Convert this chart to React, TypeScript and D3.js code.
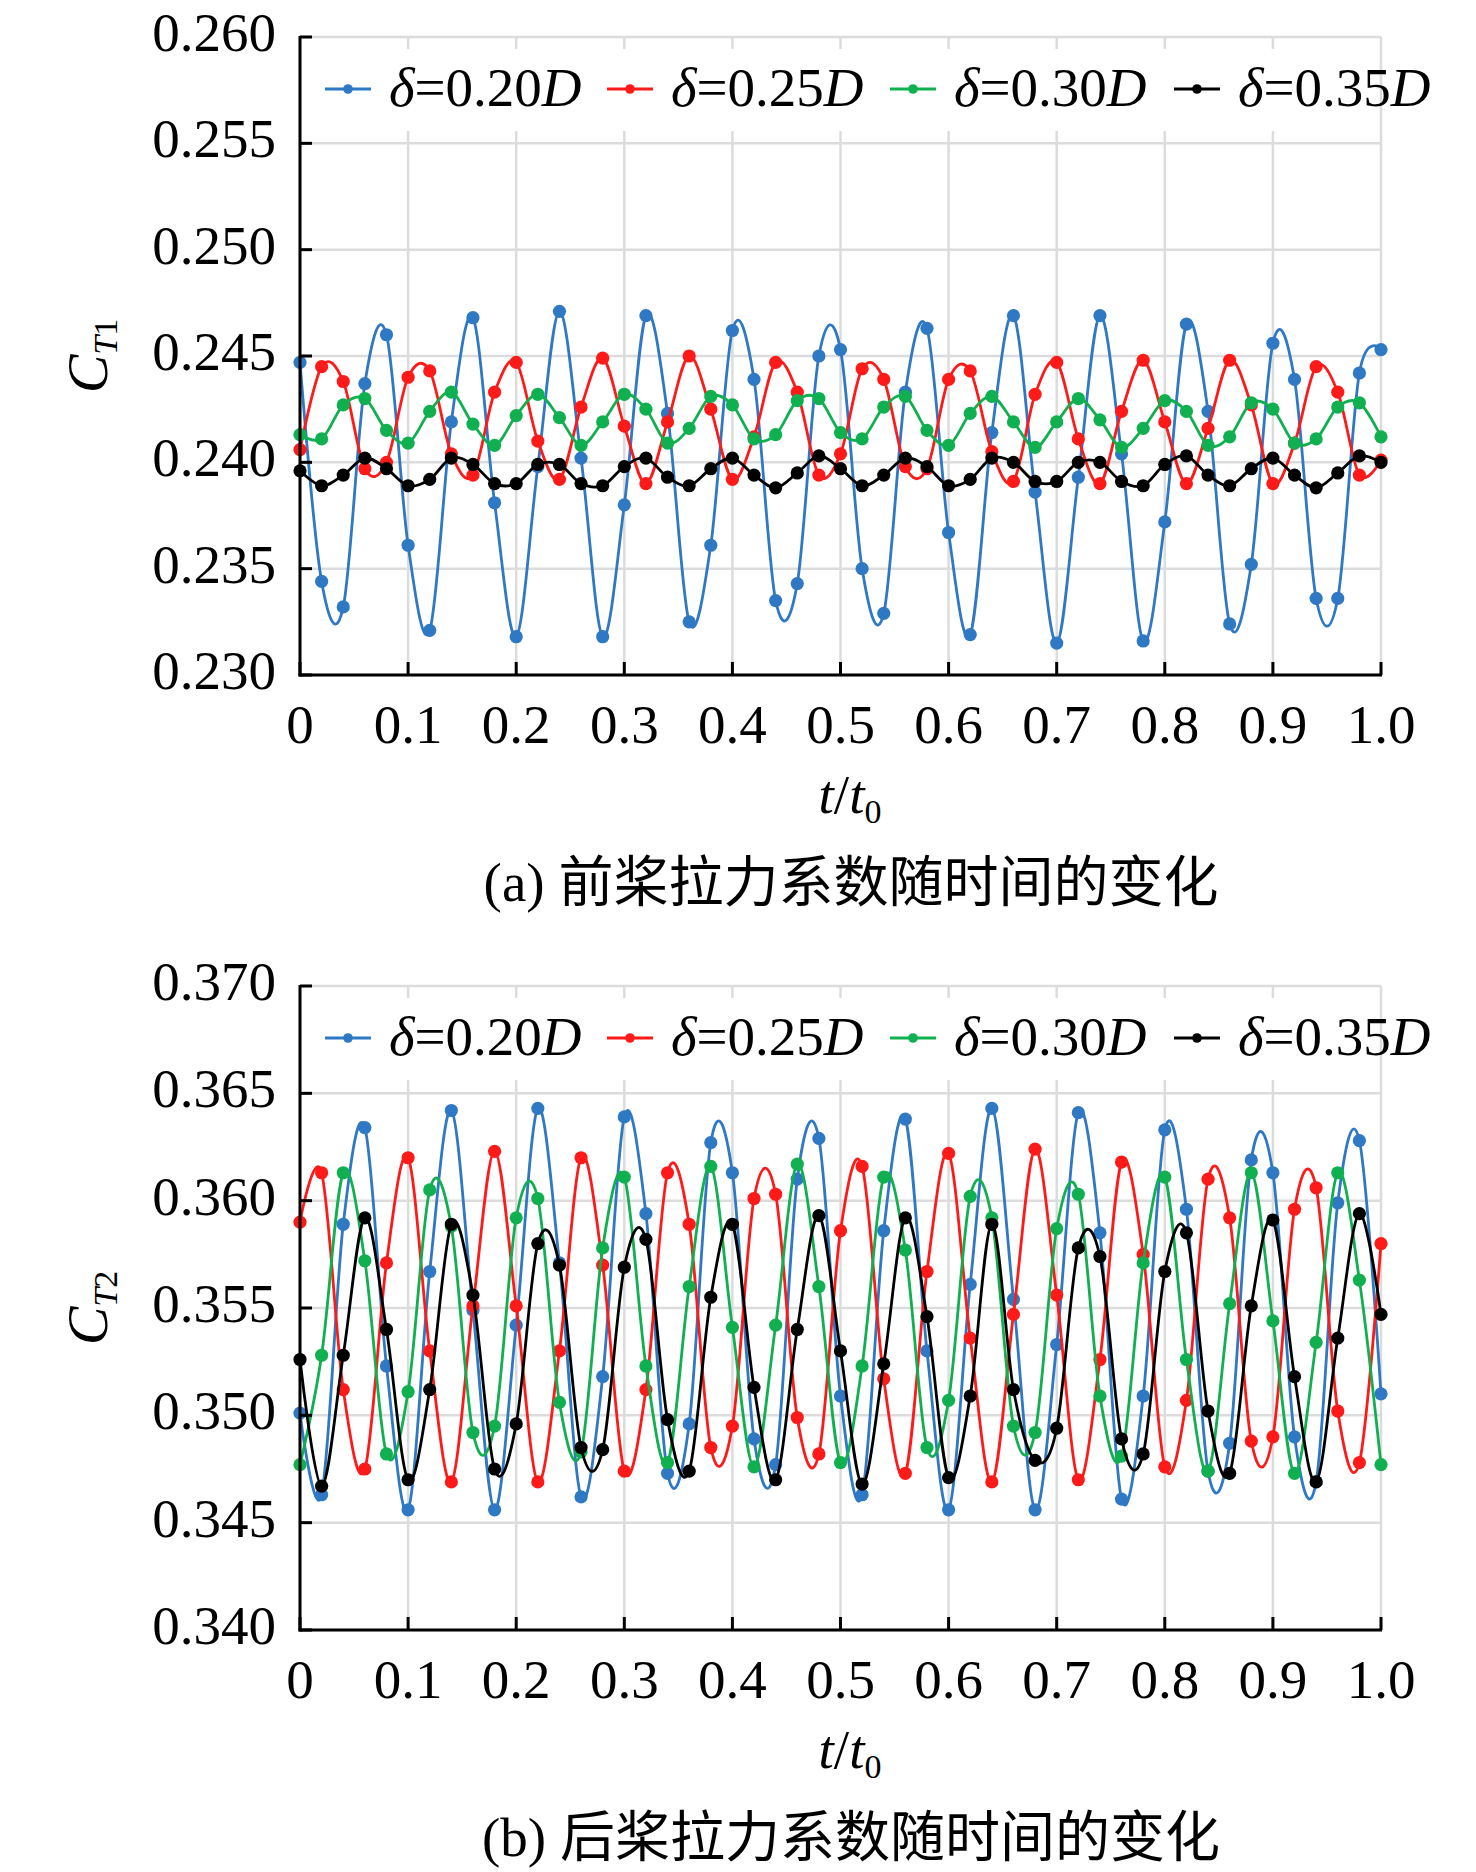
import React from "react";
import * as d3 from "d3";

// time samples t/t0 (step 0.02)
const tValues: number[] = d3.range(51).map((i) => +(i * 0.02).toFixed(2));

const seriesNames = ["0.20", "0.25", "0.30", "0.35"];
const seriesColors = ["#2f78c4", "#ff1a1a", "#10b050", "#000000"];

// (a) front propeller C_T1
const ct1_020 = [0.2447, 0.2344, 0.2332, 0.2437, 0.2460, 0.2361, 0.2321, 0.2419, 0.2468, 0.2381, 0.2318, 0.2398, 0.2471, 0.2402, 0.2318, 0.2380, 0.2469, 0.2423, 0.2325, 0.2361, 0.2462, 0.2439, 0.2335, 0.2343, 0.2450, 0.2453, 0.2350, 0.2329, 0.2433, 0.2463, 0.2367, 0.2319, 0.2414, 0.2469, 0.2386, 0.2315, 0.2393, 0.2469, 0.2404, 0.2316, 0.2372, 0.2465, 0.2424, 0.2324, 0.2352, 0.2456, 0.2439, 0.2336, 0.2336, 0.2442, 0.2453];
const ct1_025 = [0.2406, 0.2445, 0.2438, 0.2397, 0.2400, 0.2440, 0.2443, 0.2404, 0.2394, 0.2433, 0.2447, 0.2410, 0.2392, 0.2426, 0.2449, 0.2417, 0.2390, 0.2419, 0.2450, 0.2425, 0.2392, 0.2412, 0.2447, 0.2433, 0.2394, 0.2404, 0.2444, 0.2439, 0.2398, 0.2397, 0.2439, 0.2443, 0.2405, 0.2391, 0.2432, 0.2447, 0.2411, 0.2390, 0.2424, 0.2448, 0.2419, 0.2390, 0.2416, 0.2448, 0.2427, 0.2390, 0.2409, 0.2445, 0.2433, 0.2394, 0.2401];
const ct1_030 = [0.2413, 0.2411, 0.2427, 0.2430, 0.2415, 0.2409, 0.2424, 0.2433, 0.2418, 0.2408, 0.2422, 0.2432, 0.2421, 0.2408, 0.2419, 0.2432, 0.2425, 0.2409, 0.2416, 0.2431, 0.2427, 0.2411, 0.2413, 0.2429, 0.2430, 0.2414, 0.2411, 0.2426, 0.2431, 0.2415, 0.2408, 0.2423, 0.2431, 0.2419, 0.2407, 0.2419, 0.2430, 0.2420, 0.2407, 0.2416, 0.2429, 0.2424, 0.2408, 0.2412, 0.2428, 0.2425, 0.2409, 0.2411, 0.2426, 0.2428, 0.2412];
const ct1_035 = [0.2396, 0.2389, 0.2394, 0.2402, 0.2397, 0.2389, 0.2392, 0.2402, 0.2399, 0.2390, 0.2390, 0.2399, 0.2399, 0.2390, 0.2389, 0.2398, 0.2402, 0.2393, 0.2389, 0.2397, 0.2402, 0.2394, 0.2388, 0.2395, 0.2403, 0.2397, 0.2389, 0.2394, 0.2402, 0.2398, 0.2389, 0.2392, 0.2402, 0.2400, 0.2391, 0.2391, 0.2400, 0.2400, 0.2391, 0.2389, 0.2399, 0.2403, 0.2394, 0.2389, 0.2397, 0.2402, 0.2394, 0.2388, 0.2395, 0.2403, 0.2400];

// (b) rear propeller C_T2
const ct2_020 = [0.3501, 0.3463, 0.3589, 0.3634, 0.3523, 0.3456, 0.3567, 0.3642, 0.3549, 0.3456, 0.3542, 0.3643, 0.3571, 0.3462, 0.3518, 0.3639, 0.3594, 0.3473, 0.3496, 0.3627, 0.3613, 0.3489, 0.3477, 0.3610, 0.3629, 0.3509, 0.3463, 0.3586, 0.3638, 0.3530, 0.3456, 0.3561, 0.3643, 0.3554, 0.3456, 0.3533, 0.3641, 0.3585, 0.3461, 0.3509, 0.3633, 0.3596, 0.3474, 0.3487, 0.3619, 0.3613, 0.3490, 0.3469, 0.3599, 0.3628, 0.3510];
const ct2_025 = [0.3590, 0.3613, 0.3512, 0.3475, 0.3571, 0.3620, 0.3530, 0.3469, 0.3551, 0.3623, 0.3551, 0.3469, 0.3530, 0.3620, 0.3570, 0.3474, 0.3512, 0.3613, 0.3589, 0.3485, 0.3495, 0.3601, 0.3603, 0.3499, 0.3482, 0.3586, 0.3616, 0.3517, 0.3473, 0.3567, 0.3622, 0.3536, 0.3469, 0.3547, 0.3624, 0.3556, 0.3470, 0.3526, 0.3618, 0.3575, 0.3476, 0.3507, 0.3610, 0.3592, 0.3488, 0.3490, 0.3596, 0.3606, 0.3502, 0.3478, 0.3580];
const ct2_030 = [0.3477, 0.3528, 0.3613, 0.3572, 0.3482, 0.3511, 0.3605, 0.3588, 0.3492, 0.3495, 0.3592, 0.3601, 0.3506, 0.3483, 0.3578, 0.3611, 0.3523, 0.3478, 0.3560, 0.3616, 0.3541, 0.3476, 0.3542, 0.3617, 0.3560, 0.3478, 0.3523, 0.3611, 0.3577, 0.3485, 0.3507, 0.3602, 0.3592, 0.3495, 0.3492, 0.3587, 0.3603, 0.3509, 0.3481, 0.3571, 0.3611, 0.3526, 0.3474, 0.3552, 0.3613, 0.3544, 0.3473, 0.3534, 0.3613, 0.3563, 0.3477];
const ct2_035 = [0.3526, 0.3467, 0.3528, 0.3592, 0.3540, 0.3470, 0.3512, 0.3589, 0.3556, 0.3475, 0.3496, 0.3580, 0.3570, 0.3485, 0.3484, 0.3569, 0.3582, 0.3498, 0.3474, 0.3555, 0.3589, 0.3513, 0.3470, 0.3540, 0.3593, 0.3530, 0.3468, 0.3524, 0.3592, 0.3546, 0.3471, 0.3509, 0.3589, 0.3512, 0.3479, 0.3494, 0.3578, 0.3574, 0.3489, 0.3482, 0.3567, 0.3585, 0.3502, 0.3473, 0.3551, 0.3591, 0.3518, 0.3469, 0.3536, 0.3594, 0.3547];

const xTicks = [0, 0.1, 0.2, 0.3, 0.4, 0.5, 0.6, 0.7, 0.8, 0.9, 1.0];
const xTickLabels = ["0", "0.1", "0.2", "0.3", "0.4", "0.5", "0.6", "0.7", "0.8", "0.9", "1.0"];
const yTicks1 = [0.23, 0.235, 0.24, 0.245, 0.25, 0.255, 0.26];
const yTicks2 = [0.34, 0.345, 0.35, 0.355, 0.36, 0.365, 0.37];

const SERIF = "'Times New Roman', 'Liberation Serif', 'Noto Sans CJK SC', serif";
const FS = 55;

interface PanelProps {
    top: number;
    bottom: number;
    yDomain: [number, number];
    yTicks: number[];
    series: number[][];
    sub: string;
    caption: string;
}

const left = 300;
const right = 1381;

const Panel: React.FC<PanelProps> = ({ top, bottom, yDomain, yTicks, series, sub, caption }) => {
    const x = d3.scaleLinear().domain([0, 1]).range([left, right]);
    const y = d3.scaleLinear().domain(yDomain).range([bottom, top]);

    const line = d3
        .line<number>()
        .x((_d, i) => x(tValues[i]))
        .y((d) => y(d))
        .curve(d3.curveCardinal.tension(0));

    const legendY = top + 52;
    const legendX = [325, 607, 890, 1174];
    const midY = (top + bottom) / 2;

    return (
        <g>
            {/* 网格线 */}
            {yTicks.map((v) => (
                <line key={"gy" + v} x1={left} x2={right} y1={y(v)} y2={y(v)} stroke="#dcdcdc" strokeWidth={2.5} />
            ))}
            {xTicks.map((v) => (
                <line key={"gx" + v} x1={x(v)} x2={x(v)} y1={top} y2={bottom} stroke="#dcdcdc" strokeWidth={2.5} />
            ))}

            {/* 图例底色 */}
            <rect x={left + 8} y={top + 12} width={right - left - 12} height={82} fill="#fff" />

            {/* 数据线 */}
            {series.map((s, si) => (
                <g key={"s" + si}>
                    <path d={line(s) || ""} fill="none" stroke={seriesColors[si]} strokeWidth={2.8} />
                    {s.map((v, i) => (
                        <circle key={i} cx={x(tValues[i])} cy={y(v)} r={6.6} fill={seriesColors[si]} />
                    ))}
                </g>
            ))}

            {/* 坐标轴 */}
            <line x1={left} x2={left} y1={top - 1} y2={bottom + 1.5} stroke="#000" strokeWidth={3} />
            <line x1={left - 1.5} x2={right + 1} y1={bottom} y2={bottom} stroke="#000" strokeWidth={3} />
            {yTicks.map((v) => (
                <g key={"ty" + v}>
                    <line x1={left} x2={left + 12} y1={y(v)} y2={y(v)} stroke="#000" strokeWidth={3} />
                    <text x={276} y={y(v) + 14} textAnchor="end" fontFamily={SERIF} fontSize={FS}>
                        {d3.format(".3f")(v)}
                    </text>
                </g>
            ))}
            {xTicks.map((v, i) => (
                <g key={"tx" + v}>
                    <line x1={x(v)} x2={x(v)} y1={bottom} y2={bottom - 13} stroke="#000" strokeWidth={3} />
                    <text x={x(v)} y={bottom + 68} textAnchor="middle" fontFamily={SERIF} fontSize={FS}>
                        {xTickLabels[i]}
                    </text>
                </g>
            ))}

            {/* 图例 */}
            {seriesNames.map((n, i) => (
                <g key={"lg" + n}>
                    <line x1={legendX[i]} x2={legendX[i] + 46} y1={legendY} y2={legendY} stroke={seriesColors[i]} strokeWidth={2.8} />
                    <circle cx={legendX[i] + 23} cy={legendY} r={4.8} fill={seriesColors[i]} />
                    <text x={legendX[i] + 64} y={legendY + 17} fontFamily={SERIF} fontSize={FS}>
                        <tspan fontStyle="italic">δ</tspan>
                        <tspan>={n}</tspan>
                        <tspan fontStyle="italic">D</tspan>
                    </text>
                </g>
            ))}

            {/* 轴标题 */}
            <text transform={`translate(107,${midY}) rotate(-90)`} textAnchor="middle" fontFamily={SERIF} fontSize={58}>
                <tspan fontStyle="italic">C</tspan>
                <tspan fontStyle="italic" fontSize={34} dy={10}>T</tspan>
                <tspan fontSize={34}>{sub}</tspan>
            </text>
            <text x={850} y={bottom + 138} textAnchor="middle" fontFamily={SERIF} fontSize={FS}>
                <tspan fontStyle="italic">t</tspan>
                <tspan>/</tspan>
                <tspan fontStyle="italic">t</tspan>
                <tspan fontSize={34} dy={10}>0</tspan>
            </text>
            <text x={851} y={bottom + 226} textAnchor="middle" fontFamily={SERIF} fontSize={55}>
                {caption}
            </text>
        </g>
    );
};

const App: React.FC = () => {
    return (
        <svg
            width={1476}
            height={1872}
            style={{ position: "absolute", left: 0, top: 0, background: "#fff" }}
        >
            <rect width={1476} height={1872} fill="#fff" />
            <Panel
                top={37}
                bottom={675}
                yDomain={[0.23, 0.26]}
                yTicks={yTicks1}
                series={[ct1_020, ct1_025, ct1_030, ct1_035]}
                sub="1"
                caption="(a) 前桨拉力系数随时间的变化"
            />
            <Panel
                top={986}
                bottom={1630}
                yDomain={[0.34, 0.37]}
                yTicks={yTicks2}
                series={[ct2_020, ct2_025, ct2_030, ct2_035]}
                sub="2"
                caption="(b) 后桨拉力系数随时间的变化"
            />
        </svg>
    );
};

export default App;
